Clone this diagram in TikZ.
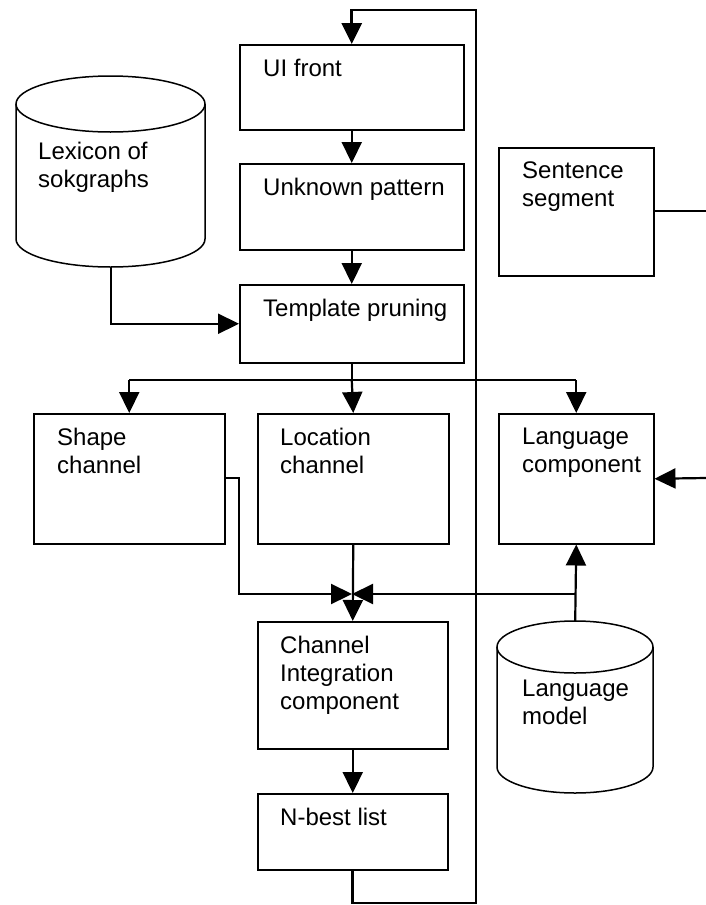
\documentclass[tikz,border=0pt]{standalone}
\usepackage{fontspec}
\setmainfont{Liberation Sans}
\usetikzlibrary{arrows.meta}
\begin{document}
\begin{tikzpicture}[x=1pt,y=1pt,
  boxnode/.style={draw, line width=1.5pt, inner sep=0, anchor=north west},
  label/.style={inner sep=0, anchor=north west, align=left, font=\fontsize{24}{28}\selectfont},
  cyl/.style={line width=1.5pt},
  conn/.style={line width=2.2pt},
  fb/.style={line width=2.8pt},
  arr/.style={-{Triangle[length=21pt,width=20pt]}}]
\fill[white] (0,0) rectangle (706,-905);
\useasboundingbox (0,0) rectangle (706,-905);

% boxes
\node[boxnode, minimum width=224, minimum height=85] (ui) at (239,-44) {};
\node[boxnode, minimum width=224, minimum height=86] (unk) at (239,-163) {};
\node[boxnode, minimum width=224, minimum height=78] (tmp) at (239,-284) {};
\node[boxnode, minimum width=191, minimum height=130] (shape) at (33,-413) {};
\node[boxnode, minimum width=191, minimum height=130] (loc) at (257,-413) {};
\node[boxnode, minimum width=155, minimum height=130] (lang) at (498,-413) {};
\node[boxnode, minimum width=155, minimum height=128] (sent) at (498,-147) {};
\node[boxnode, minimum width=190, minimum height=127] (chan) at (257,-621) {};
\node[boxnode, minimum width=190, minimum height=76] (nbest) at (257,-793) {};

% cylinders
\node[inner sep=0, minimum width=189, minimum height=191, anchor=north west] (lex) at (16,-76) {};
\draw[cyl] (16,-104) -- (16,-239) arc[start angle=180, end angle=360, x radius=94.5, y radius=28] -- (205,-104);
\draw[cyl] (110.5,-104) ellipse[x radius=94.5, y radius=28];
\node[inner sep=0, minimum width=156, minimum height=172, anchor=north west] (lm) at (497,-621) {};
\draw[cyl] (497,-647) -- (497,-767) arc[start angle=180, end angle=360, x radius=78, y radius=26] -- (653,-647);
\draw[cyl] (575,-647) ellipse[x radius=78, y radius=26];

% labels
\node[label] (uit) at (263,-59) {UI front};
\node[label] (unkt) at (263,-178) {Unknown pattern};
\node[label] (tmpt) at (263,-299) {Template pruning};
\node[label] (shapet) at (57,-428) {Shape\\channel};
\node[label] (loct) at (280,-428) {Location\\channel};
\node[label] (langt) at (522,-428) {Language\\component};
\node[label] (sentt) at (522,-162) {Sentence\\segment};
\node[label] (chant) at (280,-636) {Channel\\Integration\\component};
\node[label] (nbestt) at (280,-808) {N-best list};
\node[label] (lext) at (38,-142) {Lexicon of\\sokgraphs};
\node[label] (lmt) at (522,-680) {Language\\model};

% coordinates
\coordinate (fb2) at (476,-903);
\coordinate (fb3) at (476,-10);
\coordinate (bus) at (352,-380);
\coordinate (sh1) at (239,-478);
\coordinate (mj) at (352,-594);
\coordinate (se) at (706,-211);
\coordinate (li) at (706,-478);

% feedback loop
\draw[fb, arr] (nbest.south) -- (nbest.south |- fb2) -- (fb2) -- (fb3) -- (ui.north |- fb3) -- (ui.north);

% main chain
\draw[conn, arr] (ui.south) -- (unk.north);
\draw[conn, arr] (unk.south) -- (tmp.north);
\draw[conn, arr] (lex.south) |- (tmp.west);

% bus
\draw[conn] (tmp.south) -- (tmp.south |- bus);
\draw[conn] (shape.north |- bus) -- (lang.north |- bus);
\draw[conn, arr] (tmp.south |- bus) -- (loc.north);
\draw[conn, arr] (shape.north |- bus) -- (shape.north);
\draw[conn, arr] (lang.north |- bus) -- (lang.north);

% merge
\draw[conn, arr] (shape.east |- sh1) -- (sh1) |- (mj);
\draw[conn, arr] (lm.north |- mj) -- (mj);
\draw[conn, arr] (loc.south) -- (chan.north);
\draw[conn, arr] (lm.north) -- (lang.south);
\draw[conn, arr] (chan.south) -- (nbest.north);

% right side
\draw[conn] (sent.east |- se) -- (se);
\draw[conn, arr] (li) -- (lang.east);
\end{tikzpicture}
\end{document}
